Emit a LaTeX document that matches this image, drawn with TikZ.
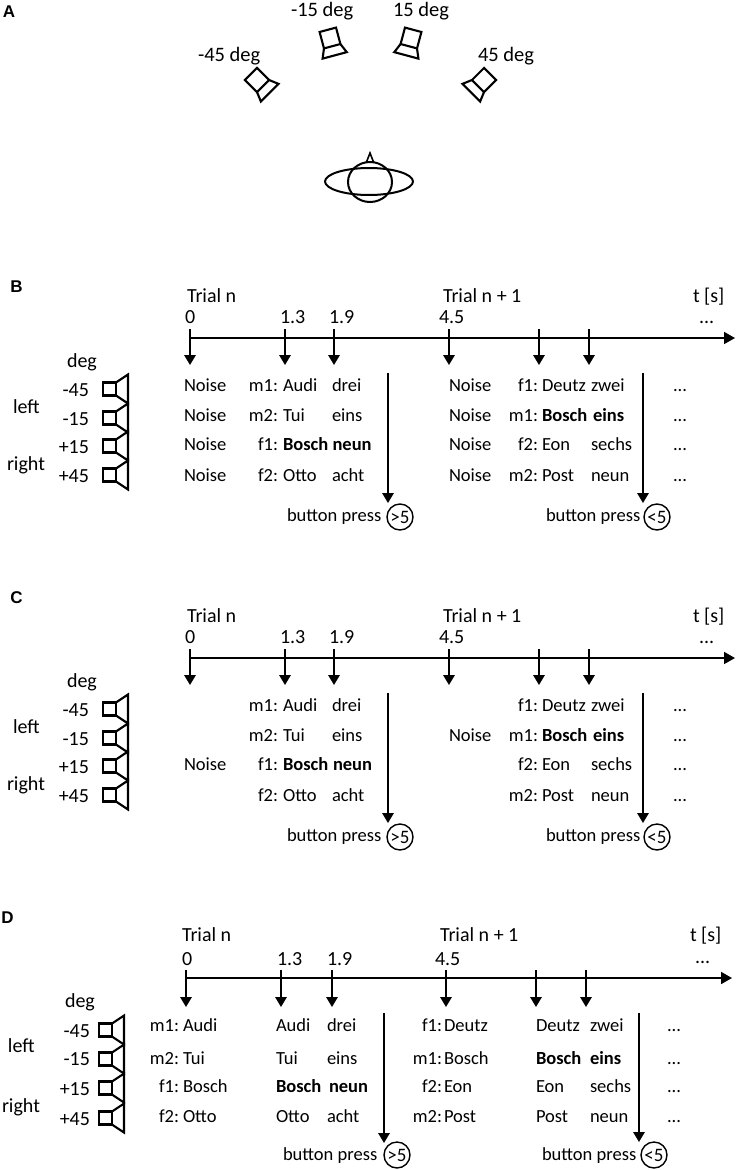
\documentclass[tikz,border=0pt]{standalone}
\usepackage{fontspec}
\setmainfont{Carlito}
\newfontfamily\labfont{Liberation Sans}
\usetikzlibrary{arrows.meta}
\tikzset{
  every node/.append style={inner sep=0pt, outer sep=0pt},
  hd/.style={font=\fontsize{20}{24}\selectfont, anchor=base west},
  atxt/.style={font=\fontsize{20.5}{24}\selectfont, anchor=base west},
  rl/.style={font=\fontsize{20}{24}\selectfont, anchor=base east},
  tx/.style={font=\fontsize{18.5}{22}\selectfont, anchor=base west},
  txr/.style={font=\fontsize{18.5}{22}\selectfont, anchor=base east},
  bx/.style={font=\fontsize{18.5}{22}\selectfont\bfseries, anchor=base west},
  plab/.style={font=\fontsize{17}{19}\labfont\bfseries\selectfont, anchor=center},
  circ/.style={draw, circle, line width=1.4pt, minimum size=26pt, font=\fontsize{19}{20}\selectfont},
  axisline/.style={line width=1.7pt, -{Triangle[length=11pt,width=12pt]}},
  tick/.style={line width=1.7pt, -{Triangle[length=10pt,width=11.5pt]}},
  spkline/.style={line width=2.1pt, line join=miter},
  spk/.pic={\draw[spkline] (-13,-6.5) rectangle (0,6.5);
            \draw[spkline] (0,-6.5) -- (12,-14.5) -- (12,14.5) -- (0,6.5);},
  aspk/.pic={\draw[spkline] (-8.5,-8.5) rectangle (8.5,8.5);
             \draw[spkline] (-8.5,8.5) -- (-12.5,18) -- (12.5,18) -- (8.5,8.5);},
}
\newcommand{\skelBC}[1]{%
  \node[hd] (#1-trial) at (187,302) {Trial n};
  \node[hd] (#1-t0) at (185,323) {0};
  \node[hd] (#1-t13) at (280,323) {1.3};
  \node[hd] (#1-t19) at (329,323) {1.9};
  \node[hd] (#1-trial2) at (443,302) {Trial n + 1};
  \node[hd] (#1-t45) at (439,323) {4.5};
  \node[hd] (#1-ts) at (693,302) {t [s]};
  \node[hd] (#1-tdots) at (699,323) {...};
  \coordinate (#1-axs) at (190,338);
  \coordinate (#1-axe) at (735,338);
  \draw[axisline] (#1-axs) -- (#1-axe);
  \coordinate (#1-s1) at (190,329); \coordinate (#1-e1) at (190,365);
  \coordinate (#1-s2) at (285,329); \coordinate (#1-e2) at (285,365);
  \coordinate (#1-s3) at (334,329); \coordinate (#1-e3) at (334,365);
  \coordinate (#1-s4) at (449,329); \coordinate (#1-e4) at (449,365);
  \coordinate (#1-s5) at (539,329); \coordinate (#1-e5) at (539,365);
  \coordinate (#1-s6) at (589,329); \coordinate (#1-e6) at (589,365);
  \foreach \k in {1,...,6} {\draw[tick] (#1-s\k) -- (#1-e\k);}
  \node[hd] (#1-deg) at (67,367) {deg};
  \node[rl] (#1-r1) at (89,396) {-45};
  \node[rl] (#1-r2) at (89,425) {-15};
  \node[rl] (#1-r3) at (89,453) {+15};
  \node[rl] (#1-r4) at (89,482) {+45};
  \pic at (116,389) {spk};
  \pic at (116,418) {spk};
  \pic at (116,446) {spk};
  \pic at (116,475) {spk};
  \node[hd] (#1-left) at (13,413) {left};
  \node[hd] (#1-right) at (7,470) {right};
  \node[tx] (#1-bp1) at (287,521) {button press};
  \node[circ] (#1-c1) at (400,517) {>5};
  \coordinate (#1-bs1) at (388,373); \coordinate (#1-be1) at (388,503);
  \draw[tick] (#1-bs1) -- (#1-be1);
  \node[tx] (#1-bp2) at (546,521) {button press};
  \node[circ] (#1-c2) at (657,517) {<5};
  \coordinate (#1-bs2) at (643,373); \coordinate (#1-be2) at (643,503);
  \draw[tick] (#1-bs2) -- (#1-be2);
  \node[tx] (#1-x1) at (673,391) {...};
  \node[tx] (#1-x2) at (673,421) {...};
  \node[tx] (#1-x3) at (673,450) {...};
  \node[tx] (#1-x4) at (673,481) {...};
}
\begin{document}
\begin{tikzpicture}[x=1pt,y=-1pt]
\useasboundingbox (0,0) rectangle (737,1170);

% ---------------- Panel A ----------------
\node[plab] (labA) at (9,12) {A};
\node[atxt] (a-m45) at (198,61) {-45 deg};
\node[atxt] (a-m15) at (291,16) {-15 deg};
\node[atxt] (a-p15) at (393,16) {15 deg};
\node[atxt] (a-p45) at (478,61) {45 deg};
\pic[rotate=45] at (257,80) {aspk};
\pic[rotate=15] at (330,38) {aspk};
\pic[rotate=-15] at (411,38) {aspk};
\pic[rotate=-45] at (484,80) {aspk};
\draw[line width=2pt] (369,181.5) ellipse [x radius=44pt, y radius=13.5pt];
\draw[line width=2pt] (370,182) ellipse [x radius=22pt, y radius=20pt];
\draw[line width=1.6pt, line join=miter] (366.5,162) -- (370,153) -- (373.5,162) -- cycle;

% ---------------- Panel B ----------------
\node[plab] (labB) at (16.5,287) {B};
\skelBC{b}
\node[tx] (b-n1) at (184,391) {Noise};
\node[tx] (b-n2) at (184,421) {Noise};
\node[tx] (b-n3) at (184,450) {Noise};
\node[tx] (b-n4) at (184,481) {Noise};
\node[txr] (b-l1) at (278,391) {m1:};
\node[txr] (b-l2) at (278,421) {m2:};
\node[txr] (b-l3) at (278,450) {f1:};
\node[txr] (b-l4) at (278,481) {f2:};
\node[tx] (b-w1) at (283,391) {Audi};
\node[tx] (b-w2) at (283,421) {Tui};
\node[bx] (b-w3) at (283,450) {Bosch neun};
\node[tx] (b-w4) at (283,481) {Otto};
\node[tx] (b-v1) at (332,391) {drei};
\node[tx] (b-v2) at (332,421) {eins};
\node[tx] (b-v4) at (332,481) {acht};
\node[tx] (b-N1) at (449,391) {Noise};
\node[tx] (b-N2) at (449,421) {Noise};
\node[tx] (b-N3) at (449,450) {Noise};
\node[tx] (b-N4) at (449,481) {Noise};
\node[txr] (b-L1) at (538,391) {f1:};
\node[txr] (b-L2) at (538,421) {m1:};
\node[txr] (b-L3) at (538,450) {f2:};
\node[txr] (b-L4) at (538,481) {m2:};
\node[tx] (b-W1) at (542,391) {Deutz};
\node[bx] (b-W2) at (542,421) {Bosch};
\node[tx] (b-W3) at (542,450) {Eon};
\node[tx] (b-W4) at (542,481) {Post};
\node[tx] (b-V1) at (591,391) {zwei};
\node[bx] (b-V2) at (593,421) {eins};
\node[tx] (b-V3) at (591,450) {sechs};
\node[tx] (b-V4) at (591,481) {neun};

% ---------------- Panel C ----------------
\node[plab] (labC) at (16.5,598) {C};
\begin{scope}[shift={(0,320)}]
\skelBC{c}
\node[tx] (c-n3) at (184,450) {Noise};
\node[txr] (c-l1) at (278,391) {m1:};
\node[txr] (c-l2) at (278,421) {m2:};
\node[txr] (c-l3) at (278,450) {f1:};
\node[txr] (c-l4) at (278,481) {f2:};
\node[tx] (c-w1) at (283,391) {Audi};
\node[tx] (c-w2) at (283,421) {Tui};
\node[bx] (c-w3) at (283,450) {Bosch};
\node[tx] (c-w4) at (283,481) {Otto};
\node[tx] (c-v1) at (332,391) {drei};
\node[tx] (c-v2) at (332,421) {eins};
\node[bx] (c-v3) at (333,450) {neun};
\node[tx] (c-v4) at (332,481) {acht};
\node[tx] (c-N2) at (449,421) {Noise};
\node[txr] (c-L1) at (538,391) {f1:};
\node[txr] (c-L2) at (538,421) {m1:};
\node[txr] (c-L3) at (538,450) {f2:};
\node[txr] (c-L4) at (538,481) {m2:};
\node[tx] (c-W1) at (542,391) {Deutz};
\node[bx] (c-W2) at (542,421) {Bosch};
\node[tx] (c-W3) at (542,450) {Eon};
\node[tx] (c-W4) at (542,481) {Post};
\node[tx] (c-V1) at (591,391) {zwei};
\node[bx] (c-V2) at (593,421) {eins};
\node[tx] (c-V3) at (591,450) {sechs};
\node[tx] (c-V4) at (591,481) {neun};
\end{scope}

% ---------------- Panel D ----------------
\node[plab] (labD) at (7.5,917.5) {D};
\begin{scope}[shift={(0,640)}]
\node[hd] (d-trial) at (182,301) {Trial n};
\node[hd] (d-t0) at (182,325) {0};
\node[hd] (d-t13) at (277,325) {1.3};
\node[hd] (d-t19) at (327,325) {1.9};
\node[hd] (d-trial2) at (440,301) {Trial n + 1};
\node[hd] (d-t45) at (435,325) {4.5};
\node[hd] (d-ts) at (690,301) {t [s]};
\node[hd] (d-tdots) at (695,323) {...};
\coordinate (d-axs) at (186,338);
\coordinate (d-axe) at (732,338);
\draw[axisline] (d-axs) -- (d-axe);
\coordinate (d-s1) at (186,330); \coordinate (d-e1) at (186,367);
\coordinate (d-s2) at (281,330); \coordinate (d-e2) at (281,367);
\coordinate (d-s3) at (332,330); \coordinate (d-e3) at (332,367);
\coordinate (d-s4) at (446,330); \coordinate (d-e4) at (446,367);
\coordinate (d-s5) at (536,330); \coordinate (d-e5) at (536,367);
\coordinate (d-s6) at (586,330); \coordinate (d-e6) at (586,367);
\foreach \k in {1,...,6} {\draw[tick] (d-s\k) -- (d-e\k);}
\node[hd] (d-deg) at (65,367) {deg};
\node[rl] (d-r1) at (90,397) {-45};
\node[rl] (d-r2) at (90,425) {-15};
\node[rl] (d-r3) at (90,455) {+15};
\node[rl] (d-r4) at (90,485) {+45};
\pic at (112,390) {spk};
\pic at (112,419) {spk};
\pic at (112,448) {spk};
\pic at (112,478) {spk};
\node[hd] (d-left) at (8,412) {left};
\node[hd] (d-right) at (2,472) {right};
\node[txr] (d-l1) at (179,391) {m1:};
\node[txr] (d-l2) at (179,424) {m2:};
\node[txr] (d-l3) at (179,452) {f1:};
\node[txr] (d-l4) at (179,482) {f2:};
\node[tx] (d-w1) at (183,391) {Audi};
\node[tx] (d-w2) at (183,424) {Tui};
\node[tx] (d-w3) at (183,452) {Bosch};
\node[tx] (d-w4) at (183,482) {Otto};
\node[tx] (d-u1) at (276,391) {Audi};
\node[tx] (d-u2) at (276,424) {Tui};
\node[bx] (d-u3) at (276,452) {Bosch};
\node[tx] (d-u4) at (276,482) {Otto};
\node[tx] (d-v1) at (327,391) {drei};
\node[tx] (d-v2) at (327,424) {eins};
\node[bx] (d-v3) at (329,452) {neun};
\node[tx] (d-v4) at (327,482) {acht};
\node[txr] (d-L1) at (442,391) {f1:};
\node[txr] (d-L2) at (442,424) {m1:};
\node[txr] (d-L3) at (442,452) {f2:};
\node[txr] (d-L4) at (442,482) {m2:};
\node[tx] (d-W1) at (444,391) {Deutz};
\node[tx] (d-W2) at (444,424) {Bosch};
\node[tx] (d-W3) at (444,452) {Eon};
\node[tx] (d-W4) at (444,482) {Post};
\node[tx] (d-U1) at (536,391) {Deutz};
\node[bx] (d-U2) at (536,424) {Bosch};
\node[tx] (d-U3) at (536,452) {Eon};
\node[tx] (d-U4) at (536,482) {Post};
\node[tx] (d-V1) at (590,391) {zwei};
\node[bx] (d-V2) at (590,424) {eins};
\node[tx] (d-V3) at (590,452) {sechs};
\node[tx] (d-V4) at (590,482) {neun};
\node[tx] (d-x1) at (667,391) {...};
\node[tx] (d-x2) at (667,424) {...};
\node[tx] (d-x3) at (667,452) {...};
\node[tx] (d-x4) at (667,482) {...};
\node[tx] (d-bp1) at (283,520) {button press};
\node[circ] (d-c1) at (397,515) {>5};
\coordinate (d-bs1) at (384,373); \coordinate (d-be1) at (384,503);
\draw[tick] (d-bs1) -- (d-be1);
\node[tx] (d-bp2) at (542,520) {button press};
\node[circ] (d-c2) at (654,515) {<5};
\coordinate (d-bs2) at (639,373); \coordinate (d-be2) at (639,502);
\draw[tick] (d-bs2) -- (d-be2);
\end{scope}
\end{tikzpicture}
\end{document}
